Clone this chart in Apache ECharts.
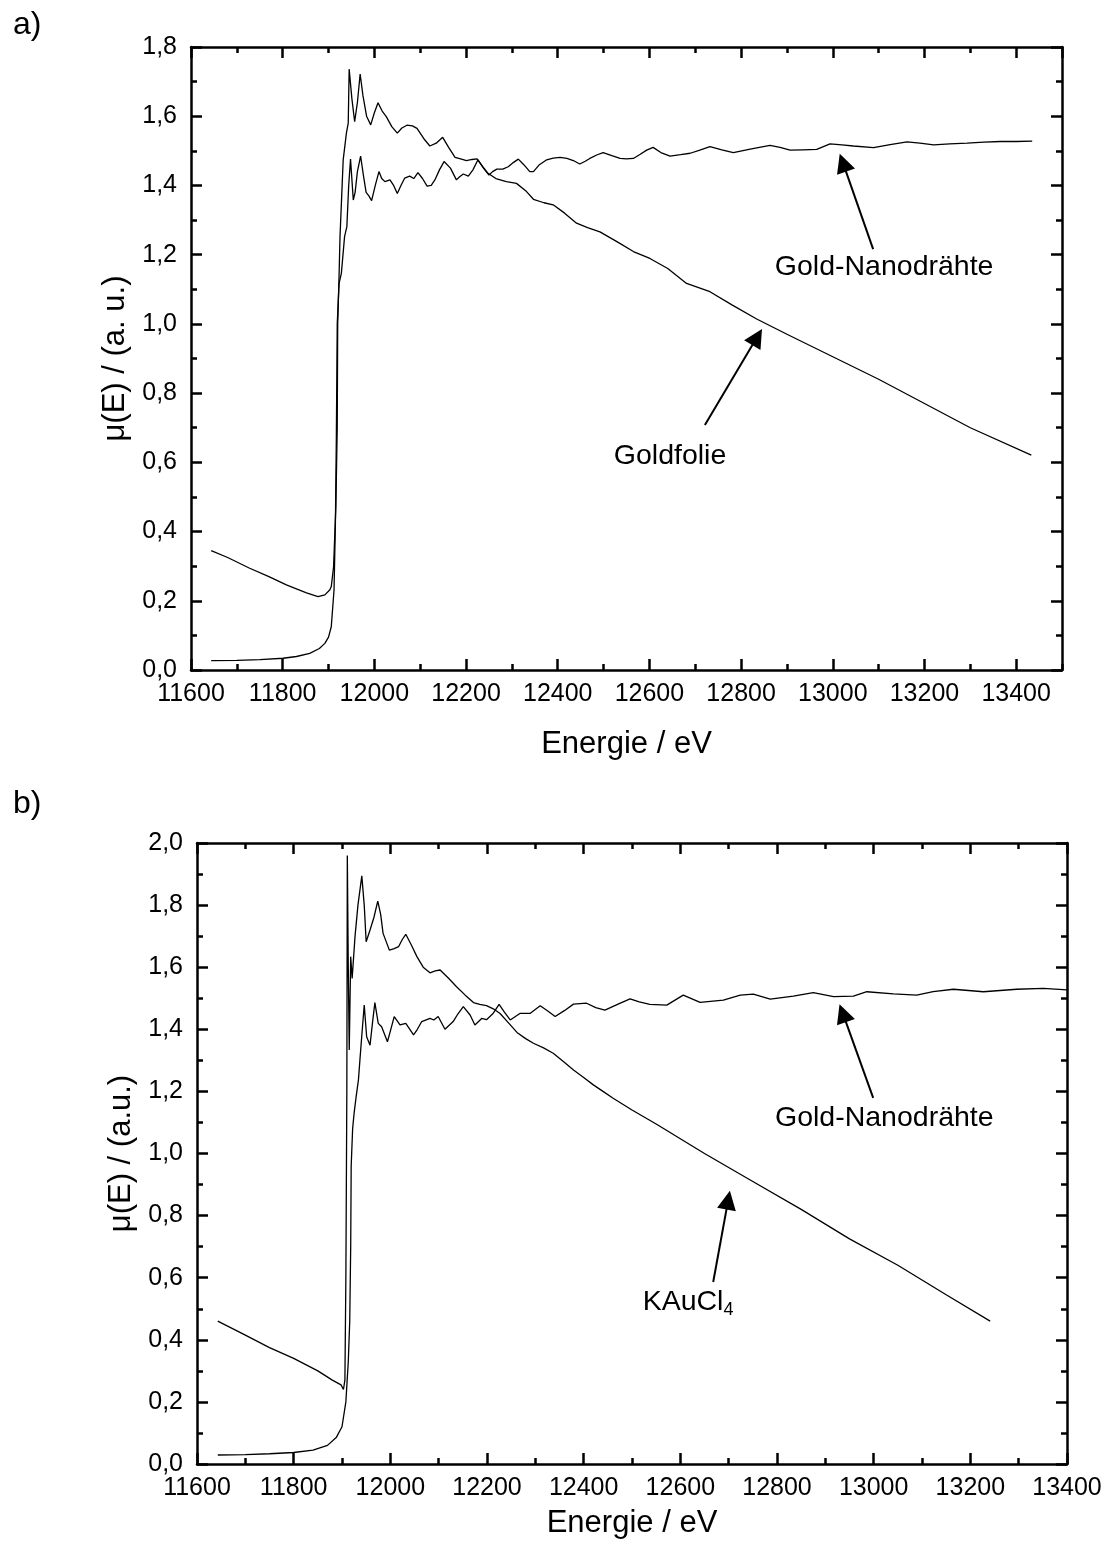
<!DOCTYPE html>
<html>
<head>
<meta charset="utf-8">
<script src="https://cdn.jsdelivr.net/npm/echarts@6/dist/echarts.min.js"></script>
<style>
html,body{margin:0;padding:0;background:#fff;}
#chart{width:1110px;height:1553px;}
</style>
</head>
<body>
<div id="chart"></div>
<script>
// ---------- Data (a): Goldfolie ----------
const aFoilE = [11644,11680,11728,11770,11808,11852,11877,11892,11903,11906,11911,11916,11919,11920,11923,11925,11932,11939,11943,11945,11951,11957,11963,11969,11975,11983,11992,12000,12008,12017,12026,12038,12050,12060,12071,12083,12093,12108,12121,12135,12149,12162,12176,12190,12201,12213,12224,12236,12248,12265,12288,12310,12330,12347,12370,12390,12415,12441,12465,12492,12530,12565,12601,12640,12681,12732,12780,12834,12900,13000,13100,13200,13300,13433];
const aFoilMu = [0.345,0.325,0.294,0.270,0.246,0.223,0.212,0.217,0.232,0.241,0.298,0.472,0.700,1.000,1.140,1.250,1.474,1.551,1.580,1.736,1.650,1.584,1.640,1.722,1.660,1.600,1.575,1.610,1.639,1.615,1.599,1.570,1.551,1.566,1.574,1.572,1.565,1.535,1.514,1.522,1.539,1.510,1.481,1.476,1.472,1.475,1.477,1.455,1.435,1.420,1.411,1.406,1.385,1.360,1.350,1.344,1.320,1.291,1.278,1.266,1.237,1.209,1.189,1.160,1.117,1.093,1.055,1.014,0.970,0.905,0.840,0.770,0.700,0.621];

// ---------- Data (a): Gold-Nanodrähte ----------
const aWireE = [11644,11700,11750,11801,11830,11859,11880,11892,11900,11906,11912,11915,11917,11919,11923,11928,11935,11940,11944,11948,11954,11958,11963,11970,11976,11982,11988,11994,12002,12010,12016,12023,12034,12042,12050,12058,12066,12077,12086,12095,12105,12115,12124,12132,12142,12152,12166,12179,12186,12194,12205,12215,12226,12238,12250,12258,12267,12280,12292,12303,12314,12326,12339,12347,12360,12376,12390,12405,12420,12434,12448,12460,12470,12485,12499,12518,12536,12550,12565,12580,12594,12608,12625,12645,12668,12689,12710,12732,12758,12783,12820,12863,12885,12907,12935,12965,12994,13020,13045,13089,13125,13162,13190,13220,13255,13293,13330,13366,13400,13435];
const aWireMu = [0.027,0.028,0.030,0.034,0.039,0.048,0.062,0.077,0.095,0.125,0.231,0.424,0.665,1.000,1.117,1.146,1.252,1.281,1.400,1.476,1.358,1.380,1.440,1.485,1.430,1.380,1.370,1.356,1.400,1.440,1.420,1.411,1.416,1.400,1.377,1.400,1.421,1.427,1.420,1.437,1.420,1.398,1.400,1.416,1.445,1.469,1.450,1.416,1.425,1.433,1.427,1.445,1.474,1.450,1.430,1.440,1.447,1.447,1.454,1.466,1.476,1.460,1.440,1.440,1.460,1.474,1.479,1.481,1.478,1.472,1.462,1.470,1.478,1.488,1.495,1.486,1.478,1.477,1.478,1.490,1.502,1.510,1.495,1.485,1.489,1.493,1.502,1.512,1.503,1.495,1.505,1.516,1.510,1.502,1.503,1.504,1.520,1.517,1.514,1.509,1.518,1.526,1.522,1.517,1.520,1.522,1.525,1.527,1.527,1.528];

// ---------- Data (b): KAuCl4 ----------
const bSaltE = [11643,11700,11750,11800,11850,11880,11898,11903,11906,11908,11910,11911,11913,11915,11918,11921,11927,11933,11941,11946,11950,11958,11966,11974,11980,11985,11998,12008,12017,12025,12032,12044,12055,12068,12082,12093,12103,12120,12137,12155,12172,12185,12199,12213,12227,12245,12262,12280,12296,12317,12337,12358,12379,12400,12420,12440,12461,12500,12550,12650,12700,12750,12850,12950,13050,13150,13241];
const bSaltMu = [0.460,0.415,0.375,0.340,0.300,0.270,0.255,0.240,0.270,0.600,1.200,1.960,1.600,1.333,1.634,1.564,1.700,1.800,1.894,1.800,1.682,1.720,1.760,1.813,1.770,1.709,1.655,1.660,1.666,1.690,1.706,1.670,1.634,1.600,1.582,1.588,1.591,1.565,1.537,1.510,1.486,1.480,1.476,1.466,1.451,1.420,1.390,1.370,1.355,1.340,1.323,1.296,1.269,1.245,1.221,1.200,1.178,1.140,1.095,1.000,0.955,0.910,0.820,0.725,0.640,0.545,0.460];

// ---------- Data (b): Gold-Nanodrähte ----------
const bWireE = [11643,11700,11750,11800,11840,11870,11888,11900,11908,11913,11916,11918,11919,11922,11925,11929,11934,11937,11942,11946,11951,11958,11963,11968,11975,11982,11994,12001,12008,12020,12032,12048,12056,12065,12082,12090,12099,12113,12130,12140,12151,12165,12175,12189,12199,12212,12225,12236,12248,12268,12289,12310,12325,12341,12360,12379,12406,12425,12444,12470,12496,12515,12537,12572,12606,12641,12689,12724,12751,12786,12834,12875,12917,12958,12986,13041,13089,13123,13165,13227,13296,13351,13400];
const bWireMu = [0.029,0.030,0.033,0.037,0.045,0.060,0.085,0.120,0.200,0.330,0.460,0.700,0.960,1.080,1.129,1.180,1.237,1.300,1.400,1.478,1.376,1.349,1.420,1.486,1.419,1.408,1.360,1.400,1.441,1.414,1.419,1.382,1.400,1.425,1.435,1.430,1.441,1.400,1.425,1.450,1.473,1.446,1.414,1.435,1.431,1.450,1.480,1.455,1.430,1.451,1.451,1.476,1.460,1.441,1.460,1.481,1.484,1.470,1.462,1.480,1.498,1.488,1.480,1.478,1.510,1.487,1.494,1.510,1.513,1.497,1.507,1.518,1.505,1.507,1.521,1.514,1.510,1.521,1.529,1.521,1.529,1.532,1.527];

// ---------- Axis ranges / labels ----------
const aXRange = [11600, 13500], aYRange = [0, 1.8];
const bXRange = [11600, 13400], bYRange = [0, 2.0];
const xStep = 200, yStep = 0.2;
const panelLabels = ['a)', 'b)'];
const xTitle = 'Energie / eV';
const yTitles = ['\u03bc(E) / (a. u.)', '\u03bc(E) / (a.u.)'];

// annotations [textE, textMu, tailE, tailMu, tipE, tipMu]
const aWireNote = [13112, 1.164, 13088, 1.216, 13022, 1.466];
const aFoilNote = [12645, 0.618, 12721, 0.708, 12835, 0.962];
const bWireNote = [13022, 1.114, 12999, 1.179, 12936, 1.452];
const bSaltNote = [12616, 0.520, 12668, 0.586, 12699, 0.850];

const FONT = 'Liberation Sans, Arial, sans-serif';
const BLACK = '#000';

function zip(xs, ys){ return xs.map((x,i)=>[x, ys[i]]); }

const xFmt = v => String(Math.round(v));
const yFmt = v => (Math.round(v*10)/10).toFixed(1).replace('.', ',');

function axisSet(dim, grid, range, step, name, nameGap){
  const out = [];
  const posMain = dim === 'x' ? 'bottom' : 'left';
  const posMirror = dim === 'x' ? 'top' : 'right';
  const nSteps = (range[1]-range[0])/step;
  const exact = Math.abs(nSteps - Math.round(nSteps)) < 1e-6;
  const common = {type:'value', gridIndex:grid, min:range[0], max:range[1], splitLine:{show:false}, silent:true};
  out.push(Object.assign({}, common, {
    position: posMain, interval: step,
    axisLine:{show:true, onZero:false, lineStyle:{color:BLACK, width:2.5}},
    axisTick:{show:true, inside:true, length:11, lineStyle:{color:BLACK, width:2.5}},
    axisLabel:{show:true, color:BLACK, fontSize:25, fontFamily:FONT, margin: dim==='x'?12:14,
      formatter: dim==='x'?xFmt:yFmt, showMaxLabel: exact},
    name: name, nameLocation:'middle', nameGap: nameGap,
    nameTextStyle:{color:BLACK, fontSize:31, fontFamily:FONT}
  }));
  out.push(Object.assign({}, common, {
    position: posMain, interval: step/2,
    axisLine:{show:false, onZero:false}, axisLabel:{show:false},
    axisTick:{show:true, inside:true, length:6, lineStyle:{color:BLACK, width:2.5}}
  }));
  out.push(Object.assign({}, common, {
    position: posMirror, interval: step,
    axisLine:{show:true, onZero:false, lineStyle:{color:BLACK, width:2.5}}, axisLabel:{show:false},
    axisTick:{show:true, inside:true, length:11, lineStyle:{color:BLACK, width:2.5}}
  }));
  out.push(Object.assign({}, common, {
    position: posMirror, interval: step/2,
    axisLine:{show:false, onZero:false}, axisLabel:{show:false},
    axisTick:{show:true, inside:true, length:6, lineStyle:{color:BLACK, width:2.5}}
  }));
  return out;
}

const xAxes = [].concat(
  axisSet('x', 0, aXRange, xStep, xTitle, 59),
  axisSet('x', 1, bXRange, xStep, xTitle, 44)
);
const yAxes = [].concat(
  axisSet('y', 0, aYRange, yStep, yTitles[0], 49),
  axisSet('y', 1, bYRange, yStep, yTitles[1], 54)
);

function note(n, label){
  return {
    markLine: {
      silent:true, animation:false,
      symbol:['none','triangle'], symbolSize:19,
      itemStyle:{color:BLACK},
      lineStyle:{color:BLACK, width:2, type:'solid'},
      label:{show:false},
      emphasis:{disabled:true},
      data:[[{coord:[n[2], n[3]]},{coord:[n[4], n[5]]}]]
    },
    markPoint: {
      silent:true, animation:false,
      symbol:'circle', symbolSize:0,
      label:{show:true, position:'inside', color:BLACK, fontSize:28.5, fontFamily:FONT,
        formatter: label,
        rich:{ sub:{fontSize:18, fontFamily:FONT, color:BLACK, verticalAlign:'bottom', padding:[14,0,0,0]} }},
      data:[{coord:[n[0], n[1]]}]
    }
  };
}

function lineSeries(xi, yi, data, extra){
  return Object.assign({
    type:'line', xAxisIndex:xi, yAxisIndex:yi, data:data,
    showSymbol:false, symbol:'none', smooth:false, clip:true,
    lineStyle:{color:BLACK, width:1.3}, itemStyle:{color:BLACK}, animation:false, silent:true
  }, extra||{});
}

const chart = echarts.init(document.getElementById('chart'), null, {renderer:'canvas'});
chart.setOption({
  backgroundColor:'#fff',
  animation:false,
  title:[
    {text:panelLabels[0], left:8, top:4, textStyle:{fontSize:32, fontWeight:'normal', fontFamily:FONT, color:BLACK}},
    {text:panelLabels[1], left:8, top:783, textStyle:{fontSize:32, fontWeight:'normal', fontFamily:FONT, color:BLACK}}
  ],
  grid:[
    {left:191, top:47, width:871, height:623},
    {left:197, top:843, width:870, height:621}
  ],
  xAxis: xAxes,
  yAxis: yAxes,
  series:[
    lineSeries(0, 0, zip(aFoilE, aFoilMu), note(aFoilNote, 'Goldfolie')),
    lineSeries(0, 0, zip(aWireE, aWireMu), note(aWireNote, 'Gold-Nanodrähte')),
    lineSeries(4, 4, zip(bSaltE, bSaltMu), note(bSaltNote, 'KAuCl{sub|4}')),
    lineSeries(4, 4, zip(bWireE, bWireMu), note(bWireNote, 'Gold-Nanodrähte'))
  ]
});
</script>
</body>
</html>
